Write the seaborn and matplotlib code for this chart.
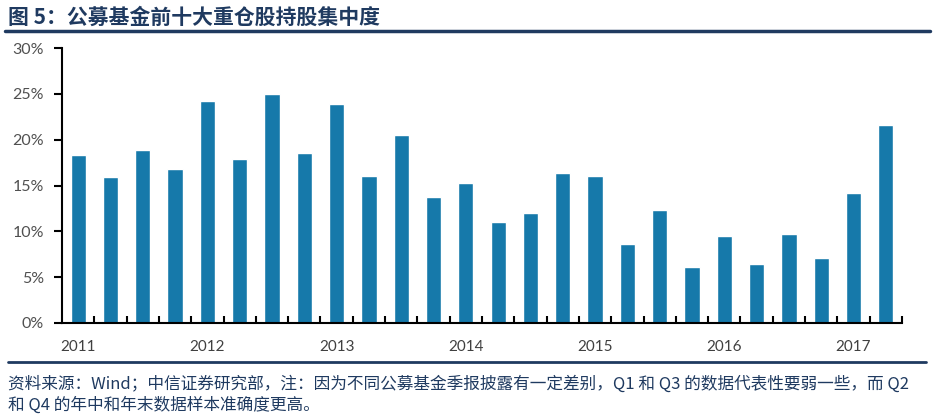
import pandas as pd
import matplotlib
matplotlib.use('Agg')
import matplotlib.pyplot as plt
import matplotlib.lines as mlines
from matplotlib.ticker import FixedLocator, FuncFormatter
import seaborn as sns

years = ['2011', '2012', '2013', '2014', '2015', '2016', '2017']
quarters = [y + 'Q' + str(q) for y in years for q in range(1, 5)][:26]
concentration = [18.3, 15.9, 18.9, 16.8, 24.2, 17.9, 25.0, 18.5, 23.9, 16.0,
                 20.5, 13.8, 15.3, 11.0, 12.0, 16.4, 16.0, 8.6, 12.3, 6.1,
                 9.5, 6.4, 9.7, 7.1, 14.2, 21.6]
yticks = [0, 5, 10, 15, 20, 25, 30]

title = '图 5：公募基金前十大重仓股持股集中度'
note_1 = '资料来源：Wind；中信证券研究部，注：因为不同公募基金季报披露有一定差别，Q1 和 Q3 的数据代表性要弱一些，而 Q2'
note_2 = '和 Q4 的年中和年末数据样本准确度更高。'

sns.set_style('white')
plt.rcParams['font.family'] = ['Lato', 'Noto Sans CJK SC', 'DejaVu Sans']

navy = '#1f3a60'
bar_color = '#1679aa'
cjk = ['Noto Sans CJK SC', 'DejaVu Sans']

df = pd.DataFrame({'quarter': quarters, 'value': concentration})

fig = plt.figure(figsize=(9.34, 4.16), dpi=100)
ax = fig.add_axes([62 / 934, 1 - 323 / 416, 840 / 934, 275 / 416])
sns.barplot(data=df, x='quarter', y='value', color=bar_color, saturation=1,
            width=0.47, ax=ax)

ax.set_xlim(-0.5, len(quarters) - 0.5)
ax.set_ylim(0, 30)
ax.set_yticks(yticks)
ax.yaxis.set_major_formatter(FuncFormatter(lambda v, p: '%d%%' % v))
ax.set_xticks([i for i in range(len(quarters)) if i % 4 == 0])
ax.set_xticklabels(years)
ax.xaxis.set_minor_locator(FixedLocator([i + 0.5 for i in range(len(quarters))]))
ax.tick_params(axis='x', which='major', length=0, pad=12, labelsize=11, labelcolor='#404040')
ax.tick_params(axis='x', which='minor', direction='in', length=5, width=1.5, color='black', bottom=True)
ax.tick_params(axis='y', direction='out', length=6, width=1.5, color='black', left=True,
               labelsize=11.5, labelcolor='#505050', pad=7)
ax.set_xlabel('')
ax.set_ylabel('')
for s in ['top', 'right']:
    ax.spines[s].set_visible(False)
for s in ['left', 'bottom']:
    ax.spines[s].set_color('black')
    ax.spines[s].set_linewidth(1.5)

fig.text(8 / 934, 1 - 17 / 416, title, fontsize=15, fontweight='bold', color=navy,
         va='center', ha='left', family=cjk)
fig.add_artist(mlines.Line2D([5 / 934, 930 / 934], [1 - 31 / 416] * 2, color=navy, linewidth=2.5))
fig.add_artist(mlines.Line2D([8 / 934, 926 / 934], [1 - 362 / 416] * 2, color=navy, linewidth=2))
fig.text(8 / 934, 1 - 384 / 416, note_1, fontsize=12, color=navy, va='center', ha='left', family=cjk)
fig.text(8 / 934, 1 - 405 / 416, note_2, fontsize=12, color=navy, va='center', ha='left', family=cjk)

fig.savefig('out.png', dpi=100)
